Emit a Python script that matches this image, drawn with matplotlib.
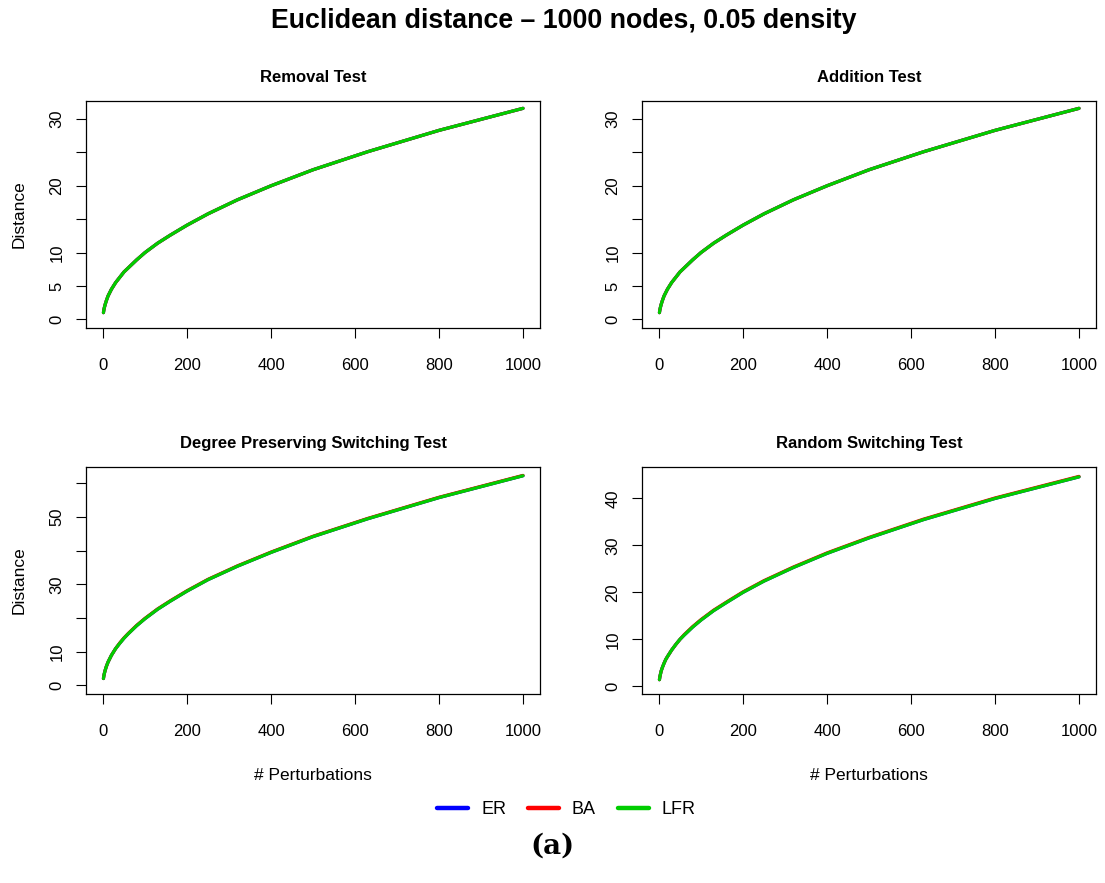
import matplotlib
matplotlib.use("Agg")
import matplotlib.pyplot as plt

plt.rcParams['font.family'] = ['Liberation Sans', 'DejaVu Sans']

# perturbation counts at which the curves were read
perturbations = [1, 2, 3, 5, 8, 12, 16, 20, 30, 40, 50, 60, 80, 100, 130,
                 160, 200, 250, 320, 400, 500, 630, 800, 1000]

removal = [1.0, 1.4, 1.7, 2.2, 2.8, 3.5, 4.0, 4.5, 5.5, 6.3, 7.1, 7.7, 8.9,
           10.0, 11.4, 12.6, 14.1, 15.8, 17.9, 20.0, 22.4, 25.1, 28.3, 31.6]
addition = [1.0, 1.4, 1.7, 2.2, 2.8, 3.5, 4.0, 4.5, 5.5, 6.3, 7.1, 7.7, 8.9,
            10.0, 11.4, 12.6, 14.1, 15.8, 17.9, 20.0, 22.4, 25.1, 28.3, 31.6]
degree_pres = [2.0, 2.8, 3.4, 4.4, 5.6, 6.9, 7.9, 8.9, 10.9, 12.5, 14.0, 15.3,
               17.7, 19.8, 22.6, 25.0, 28.0, 31.4, 35.4, 39.5, 44.2, 49.5,
               55.8, 62.3]
degree_pres_ba = [2.0, 2.8, 3.4, 4.4, 5.6, 6.9, 7.9, 8.9, 10.9, 12.6, 14.1,
                  15.4, 17.8, 19.9, 22.7, 25.1, 28.1, 31.5, 35.5, 39.6, 44.3,
                  49.6, 55.9, 62.4]
random_sw = [1.4, 2.0, 2.4, 3.2, 4.0, 4.9, 5.7, 6.3, 7.7, 8.9, 10.0, 10.9,
             12.6, 14.1, 16.1, 17.8, 20.0, 22.4, 25.3, 28.3, 31.6, 35.5, 40.0,
             44.6]
random_sw_ba = [1.4, 2.0, 2.4, 3.2, 4.0, 4.9, 5.7, 6.3, 7.7, 8.9, 10.0, 11.0,
                12.7, 14.2, 16.2, 17.9, 20.1, 22.5, 25.4, 28.4, 31.7, 35.6,
                40.1, 44.7]

networks = ["ER", "BA", "LFR"]
colors = ["#0000FF", "#FF0000", "#00CD00"]

titles = ["Removal Test", "Addition Test",
          "Degree Preserving Switching Test", "Random Switching Test"]
series = [
    [removal, removal, removal],
    [addition, addition, addition],
    [degree_pres, degree_pres_ba, degree_pres],
    [random_sw, random_sw_ba, random_sw],
]
yticks = [
    [0, 5, 10, 15, 20, 25, 30],
    [0, 5, 10, 15, 20, 25, 30],
    [0, 10, 20, 30, 40, 50, 60],
    [0, 10, 20, 30, 40],
]
ytick_labels = [
    ["0", "5", "10", "", "20", "", "30"],
    ["0", "5", "10", "", "20", "", "30"],
    ["0", "10", "", "30", "", "50", ""],
    ["0", "10", "20", "30", "40"],
]
ylims = [(-1.3, 32.7), (-1.3, 32.7), (-2.6, 64.9), (-1.65, 46.7)]
xticks = [0, 200, 400, 600, 800, 1000]

W, H = 1105, 883
fig = plt.figure(figsize=(W / 100, H / 100), dpi=100)

# axes boxes in pixels: left, top
boxes = [(86, 101), (642, 101), (86, 467), (642, 467)]
bw, bh = 454, 227

for k in range(4):
    left, top = boxes[k]
    ax = fig.add_axes([left / W, 1 - (top + bh) / H, bw / W, bh / H])
    for name, col, ys in zip(networks, colors, series[k]):
        ax.plot(perturbations, ys, color=col, lw=2.3, label=name,
                solid_capstyle='round')
    ax.set_xlim(-40.5, 1040.5)
    ax.set_ylim(*ylims[k])
    ax.set_xticks(xticks)
    ax.set_yticks(yticks[k])
    ax.set_yticklabels(ytick_labels[k], rotation=90, va='center')
    ax.tick_params(axis='x', length=7.5, width=0.8, pad=14, labelsize=12)
    ax.tick_params(axis='y', length=7.5, width=0.8, pad=8, labelsize=12)
    for s in ax.spines.values():
        s.set_linewidth(0.9)
    ax.set_title(titles[k], fontsize=12, fontweight='bold', pad=14)
    if k % 2 == 0:
        ax.set_ylabel("Distance", fontsize=12.5)
        ax.yaxis.set_label_coords(-0.13, 0.5)
    if k >= 2:
        ax.set_xlabel("# Perturbations", fontsize=12.5)
        ax.xaxis.set_label_coords(0.5, -0.325)

fig.text(564 / W, 1 - 21 / H, "Euclidean distance \u2013 1000 nodes, 0.05 density",
         ha='center', va='center', fontsize=19.3, fontweight='bold')

handles, labels = ax.get_legend_handles_labels()
leg = fig.legend(handles, labels, loc='center', bbox_to_anchor=(0.5125, 1 - 810 / H),
                 ncol=3, frameon=False, fontsize=13, handlelength=1.75,
                 handletextpad=0.7, columnspacing=1.2)
for line in leg.get_lines():
    line.set_linewidth(3.2)

fig.text(0.5, 1 - 846 / H, "(a)", ha='center', va='center',
         fontsize=20, fontweight='bold', family='DejaVu Serif')

fig.savefig("out.png", dpi=100)
